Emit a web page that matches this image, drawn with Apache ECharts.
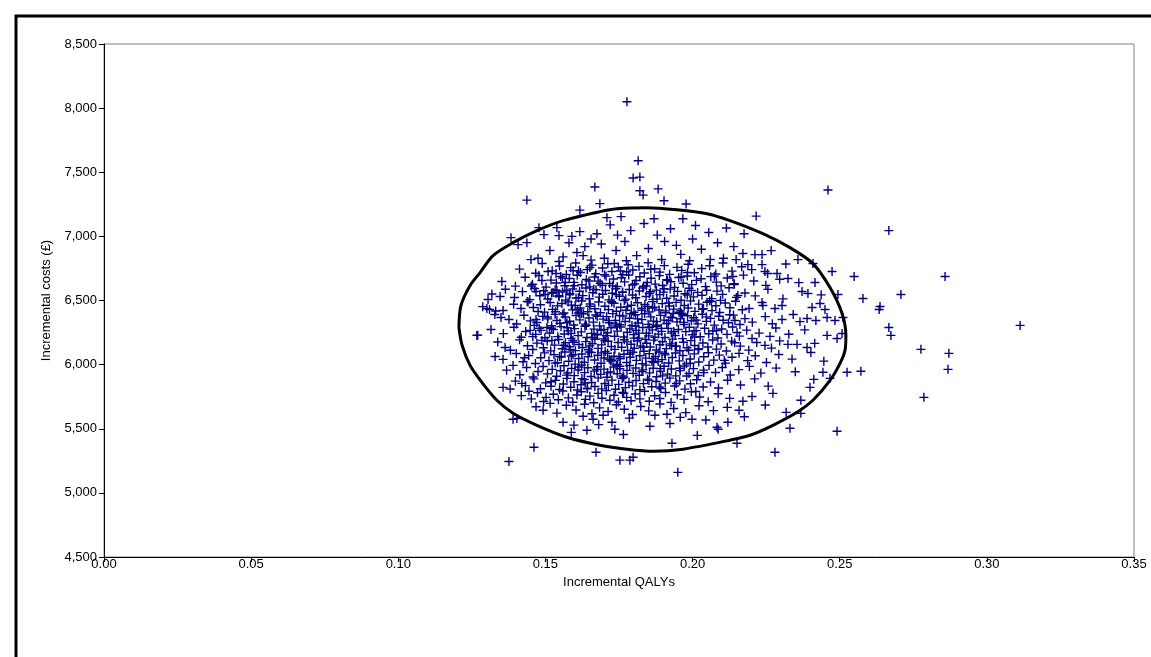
<!DOCTYPE html>
<html>
<head>
<meta charset="utf-8">
<script src="https://cdn.jsdelivr.net/npm/echarts@6/dist/echarts.min.js"></script>
<style>
html,body{margin:0;padding:0;background:#fff;}
#chart{width:1151px;height:657px;}
</style>
</head>
<body>
<div id="chart"></div>
<script>
// ---- Data: [incremental QALYs, incremental costs (£)] ----
const outliers = [
[0.1777,8050],[0.1815,7590],[0.1798,7455],[0.1821,7462],[0.1821,7356],[0.1832,7322],[0.1883,7370],[0.1903,7278],[0.1978,7252],[0.1685,7255],[0.1668,7385],[0.1437,7283],[0.1617,7205],[0.2460,7362],[0.2216,7158],[0.2667,7045],[0.2858,6687],[0.2708,6547],[0.2579,6516],[0.2637,6453],[0.2634,6430],[0.2667,6290],[0.2674,6228],[0.3113,6306],[0.2776,6119],[0.2871,6088],[0.2868,5963],[0.2572,5948],[0.2786,5745],[0.2491,5481],[0.2280,5317],[0.1950,5160],[0.1376,5245],[0.1461,5356],[0.1270,6230],[0.1753,5255],[0.1787,5255],[0.1798,5278],[0.2151,5387],[0.1930,5387],[0.1672,5317],[0.1380,5810],[0.1403,5580],[0.1310,6430],[0.2549,6687],[0.2525,5940],[0.1709,7146],[0.1757,7154],[0.1869,7138],[0.1967,7138]
];
const band6800 = [
[0.1383,6990],[0.1407,6936],[0.1437,6951],[0.1478,7068],[0.1495,7014],[0.1539,7068],[0.1546,7006],[0.1617,7037],[0.1675,7021],[0.1451,6819],[0.1546,6804],[0.1607,6874],[0.1634,6920],[0.1628,6850],[0.2175,7021],[0.2409,6788],[0.2358,6819],[0.2267,6889],[0.2236,6858],[0.2212,6858],[0.2171,6866],[0.2148,6819],[0.1720,7090],[0.1790,7045],[0.1835,7100],[0.1880,7010],[0.1925,7060],[0.2010,7085],[0.2055,7030],[0.2085,6950],[0.2115,7065],[0.2000,6980],[0.1945,6930],[0.1905,6960],[0.1850,6905],[0.1770,6960],[0.1740,6890],[0.1690,6940],[0.1655,6980],[0.1580,6950],[0.1515,6890],[0.1475,6830],[0.1560,6840],[0.1700,6830],[0.1810,6850],[0.1960,6860],[0.2030,6900],[0.2060,6820],[0.2140,6920],[0.1990,6810],[0.1895,6820],[0.1655,6815],[0.1775,6810],[0.2105,6830],[0.1590,7000],[0.1745,7010]
];
const band6700 = [
[0.1412,6745],[0.1467,6712],[0.1489,6788],[0.1523,6731],[0.1548,6769],[0.1571,6703],[0.1586,6756],[0.1603,6792],[0.1619,6718],[0.1642,6741],[0.1658,6776],[0.1671,6709],[0.1694,6753],[0.1712,6787],[0.1726,6726],[0.1748,6761],[0.1763,6702],[0.1781,6779],[0.1797,6738],[0.1818,6766],[0.1836,6715],[0.1849,6794],[0.1871,6747],[0.1889,6721],[0.1904,6772],[0.1922,6704],[0.1947,6758],[0.1963,6735],[0.1985,6783],[0.2006,6716],[0.2031,6749],[0.2058,6771],[0.2079,6707],[0.2103,6792],[0.2134,6729],[0.2167,6763],[0.2201,6741],[0.2255,6710],[0.2317,6785],[0.1755,6730],[0.1509,6726],[0.1536,6710],[0.1594,6733],[0.1651,6757],[0.2474,6726],[0.2287,6710],[0.2188,6780],[0.2236,6780],[0.2246,6726]
];
const band6600 = [
[0.1352,6648],[0.1398,6612],[0.1431,6681],[0.1456,6627],[0.1478,6695],[0.1502,6604],[0.1519,6659],[0.1537,6637],[0.1552,6688],[0.1566,6615],[0.1581,6672],[0.1597,6641],[0.1608,6697],[0.1624,6623],[0.1639,6664],[0.1651,6606],[0.1667,6683],[0.1679,6651],[0.1693,6619],[0.1706,6690],[0.1718,6633],[0.1731,6668],[0.1744,6609],[0.1758,6677],[0.1769,6645],[0.1783,6699],[0.1796,6621],[0.1808,6656],[0.1821,6685],[0.1834,6611],[0.1846,6640],[0.1859,6673],[0.1873,6628],[0.1887,6694],[0.1898,6617],[0.1912,6662],[0.1926,6646],[0.1939,6602],[0.1953,6679],[0.1968,6635],[0.1982,6691],[0.1997,6624],[0.2013,6657],[0.2029,6670],[0.2044,6608],[0.2062,6686],[0.2081,6643],[0.2097,6614],[0.2118,6676],[0.2142,6631],[0.2173,6698],[0.2208,6652],[0.2249,6618],[0.2296,6666],[0.2361,6639],[0.1567,6640],[0.1488,6656],[0.2416,6640],[0.2324,6671],[0.2137,6687],[0.2141,6625]
];
const band6500 = [
[0.1318,6551],[0.1364,6588],[0.1395,6523],[0.1422,6569],[0.1447,6507],[0.1463,6594],[0.1481,6537],[0.1494,6576],[0.1508,6512],[0.1521,6558],[0.1533,6583],[0.1546,6529],[0.1558,6566],[0.1569,6503],[0.1582,6545],[0.1593,6591],[0.1604,6519],[0.1616,6572],[0.1627,6538],[0.1638,6597],[0.1649,6514],[0.1661,6561],[0.1672,6584],[0.1683,6526],[0.1695,6549],[0.1704,6578],[0.1716,6505],[0.1727,6556],[0.1739,6592],[0.1751,6533],[0.1762,6567],[0.1773,6511],[0.1785,6586],[0.1796,6543],[0.1807,6521],[0.1819,6574],[0.1831,6598],[0.1842,6531],[0.1853,6555],[0.1865,6509],[0.1877,6581],[0.1889,6546],[0.1901,6565],[0.1912,6517],[0.1924,6589],[0.1937,6535],[0.1949,6571],[0.1961,6502],[0.1974,6553],[0.1988,6595],[0.2003,6528],[0.2017,6563],[0.2032,6541],[0.2048,6580],[0.2065,6515],[0.2083,6573],[0.2102,6548],[0.2124,6599],[0.2149,6524],[0.2178,6559],[0.2213,6536],[0.2256,6587],[0.2307,6513],[0.2372,6570],[0.2437,6544],[0.1468,6570],[0.1499,6547],[0.1539,6578],[0.1573,6578],[0.1305,6508],[0.1346,6531],[0.2494,6547],[0.2392,6555],[0.2154,6539],[0.1526,6562],[0.1583,6555]
];
const band6400 = [
[0.1287,6452],[0.1331,6418],[0.1356,6422],[0.1301,6438],[0.1417,6438],[0.1475,6414],[0.1516,6484],[0.1556,6477],[0.1392,6471],[0.1438,6493],[0.1459,6446],[0.1483,6467],[0.1497,6409],[0.1524,6431],[0.1541,6458],[0.1563,6403],[0.1577,6489],[0.1592,6427],[0.1601,6462],[0.1618,6441],[0.1623,6496],[0.1644,6412],[0.1652,6473],[0.1668,6436],[0.1681,6488],[0.1687,6405],[0.1702,6455],[0.1714,6429],[0.1733,6478],[0.1741,6416],[0.1756,6447],[0.1768,6499],[0.1774,6424],[0.1792,6463],[0.1801,6408],[0.1813,6482],[0.1827,6439],[0.1838,6469],[0.1852,6411],[0.1864,6491],[0.1871,6448],[0.1886,6426],[0.1897,6476],[0.1908,6404],[0.1921,6457],[0.1936,6433],[0.1944,6485],[0.1959,6419],[0.1972,6461],[0.1985,6442],[0.1993,6497],[0.2008,6415],[0.2021,6472],[0.2037,6437],[0.2049,6486],[0.2066,6421],[0.2079,6459],[0.2092,6407],[0.2111,6480],[0.2127,6444],[0.2146,6494],[0.2169,6428],[0.2192,6438],[0.2236,6484],[0.2239,6461],[0.2280,6438],[0.2304,6461],[0.2433,6477],[0.2450,6430],[0.2406,6446],[0.1613,6402],[0.1725,6492],[0.1847,6454],[0.1962,6401],[0.2058,6498]
];
const band6300 = [
[0.1349,6368],[0.1471,6329],[0.1539,6344],[0.2389,6360],[0.2419,6344],[0.2457,6368],[0.2304,6352],[0.2484,6344],[0.2511,6368],[0.2144,6344],[0.2161,6313],[0.1328,6391],[0.1376,6352],[0.1402,6317],[0.1427,6385],[0.1449,6341],[0.1462,6306],[0.1491,6376],[0.1508,6357],[0.1521,6303],[0.1533,6392],[0.1549,6322],[0.1567,6371],[0.1582,6338],[0.1596,6309],[0.1604,6383],[0.1617,6349],[0.1629,6396],[0.1636,6316],[0.1648,6364],[0.1663,6331],[0.1671,6387],[0.1684,6302],[0.1696,6355],[0.1708,6374],[0.1717,6327],[0.1729,6398],[0.1738,6345],[0.1752,6311],[0.1763,6379],[0.1771,6336],[0.1786,6362],[0.1794,6305],[0.1806,6389],[0.1815,6324],[0.1828,6351],[0.1837,6397],[0.1849,6314],[0.1858,6372],[0.1867,6339],[0.1879,6307],[0.1891,6384],[0.1903,6347],[0.1912,6321],[0.1926,6369],[0.1934,6399],[0.1947,6333],[0.1958,6358],[0.1971,6312],[0.1983,6381],[0.1996,6342],[0.2004,6366],[0.2018,6318],[0.2033,6393],[0.2047,6337],[0.2061,6361],[0.2074,6308],[0.2089,6377],[0.2104,6346],[0.2122,6326],[0.2139,6386],[0.2178,6359],[0.2203,6331],[0.2247,6374],[0.2271,6319],[0.2342,6391],[0.2365,6335],[0.1559,6394],[0.1742,6301],[0.1919,6343]
];
const band6200 = [
[0.1267,6228],[0.1485,6267],[0.1505,6290],[0.1448,6267],[0.2508,6243],[0.2457,6228],[0.2491,6204],[0.2151,6251],[0.2263,6220],[0.2202,6204],[0.1315,6274],[0.1357,6242],[0.1393,6291],[0.1418,6213],[0.1433,6258],[0.1467,6236],[0.1479,6284],[0.1498,6209],[0.1514,6247],[0.1527,6273],[0.1542,6218],[0.1553,6296],[0.1564,6239],[0.1578,6263],[0.1587,6205],[0.1599,6281],[0.1611,6226],[0.1622,6255],[0.1634,6299],[0.1641,6212],[0.1657,6244],[0.1665,6277],[0.1676,6232],[0.1689,6268],[0.1697,6201],[0.1711,6249],[0.1723,6287],[0.1735,6221],[0.1744,6261],[0.1757,6293],[0.1766,6215],[0.1778,6253],[0.1787,6279],[0.1799,6234],[0.1808,6266],[0.1818,6207],[0.1831,6289],[0.1843,6245],[0.1851,6224],[0.1863,6271],[0.1876,6296],[0.1884,6238],[0.1895,6259],[0.1906,6211],[0.1917,6283],[0.1928,6246],[0.1941,6227],[0.1952,6274],[0.1966,6203],[0.1977,6257],[0.1989,6291],[0.1999,6233],[0.2012,6265],[0.2026,6217],[0.2041,6284],[0.2055,6241],[0.2069,6262],[0.2086,6208],[0.2099,6278],[0.2117,6236],[0.2136,6293],[0.2159,6222],[0.2184,6269],[0.2226,6246],[0.2283,6285],[0.2327,6237],[0.2381,6271],[0.1706,6226],[0.1872,6214],[0.1574,6288]
];
const band6100 = [
[0.1363,6134],[0.1488,6189],[0.1522,6189],[0.2324,6158],[0.2355,6158],[0.2389,6134],[0.2246,6150],[0.1338,6176],[0.1381,6112],[0.1412,6193],[0.1439,6147],[0.1457,6118],[0.1471,6168],[0.1493,6131],[0.1506,6184],[0.1518,6107],[0.1531,6152],[0.1545,6196],[0.1557,6124],[0.1568,6171],[0.1581,6139],[0.1593,6188],[0.1602,6109],[0.1614,6157],[0.1626,6133],[0.1637,6179],[0.1646,6116],[0.1659,6163],[0.1668,6198],[0.1679,6127],[0.1691,6154],[0.1703,6103],[0.1713,6182],[0.1724,6141],[0.1736,6119],[0.1747,6173],[0.1759,6136],[0.1768,6194],[0.1779,6111],[0.1791,6159],[0.1802,6128],[0.1812,6186],[0.1823,6146],[0.1835,6104],[0.1844,6167],[0.1856,6137],[0.1868,6191],[0.1877,6114],[0.1889,6155],[0.1898,6178],[0.1911,6125],[0.1923,6162],[0.1932,6199],[0.1945,6143],[0.1957,6108],[0.1969,6175],[0.1981,6132],[0.1994,6187],[0.2007,6149],[0.2019,6117],[0.2035,6169],[0.2052,6138],[0.2068,6192],[0.2081,6121],[0.2097,6161],[0.2115,6106],[0.2133,6183],[0.2162,6144],[0.2191,6113],[0.2218,6172],[0.2268,6129],[0.2296,6185],[0.2415,6166],[0.1651,6146]
];
const band6000 = [
[0.1329,6063],[0.1356,6041],[0.1401,6087],[0.1424,6022],[0.1443,6071],[0.1466,6009],[0.1484,6054],[0.1497,6092],[0.1512,6031],[0.1529,6078],[0.1541,6015],[0.1554,6059],[0.1566,6098],[0.1579,6026],[0.1588,6067],[0.1601,6004],[0.1613,6048],[0.1624,6083],[0.1632,6019],[0.1645,6061],[0.1656,6095],[0.1667,6036],[0.1678,6073],[0.1689,6011],[0.1699,6052],[0.1711,6089],[0.1722,6028],[0.1733,6065],[0.1745,6002],[0.1754,6046],[0.1767,6081],[0.1776,6017],[0.1788,6058],[0.1797,6097],[0.1809,6033],[0.1821,6069],[0.1829,6007],[0.1841,6051],[0.1853,6086],[0.1862,6024],[0.1874,6063],[0.1886,6099],[0.1896,6039],[0.1907,6076],[0.1919,6013],[0.1931,6056],[0.1942,6091],[0.1955,6029],[0.1967,6071],[0.1979,6006],[0.1992,6044],[0.2006,6084],[0.2021,6021],[0.2038,6061],[0.2054,6093],[0.2072,6035],[0.2091,6074],[0.2112,6012],[0.2134,6057],[0.2158,6088],[0.2187,6031],[0.2213,6069],[0.2251,6016],[0.2293,6079],[0.2338,6043],[0.2402,6094],[0.2446,6027],[0.1717,6041],[0.1866,6047],[0.1594,6077]
];
const band5900 = [
[0.1390,5994],[0.2467,5893],[0.2443,5940],[0.1368,5957],[0.1413,5921],[0.1436,5978],[0.1458,5903],[0.1475,5946],[0.1492,5985],[0.1507,5928],[0.1523,5963],[0.1538,5909],[0.1551,5952],[0.1563,5991],[0.1576,5935],[0.1589,5971],[0.1598,5914],[0.1611,5958],[0.1623,5997],[0.1633,5938],[0.1644,5976],[0.1655,5907],[0.1666,5949],[0.1677,5984],[0.1688,5924],[0.1699,5965],[0.1709,5902],[0.1721,5943],[0.1732,5981],[0.1744,5929],[0.1753,5968],[0.1764,5911],[0.1777,5955],[0.1786,5993],[0.1798,5932],[0.1807,5974],[0.1819,5917],[0.1831,5959],[0.1842,5996],[0.1854,5936],[0.1866,5972],[0.1878,5905],[0.1891,5948],[0.1903,5987],[0.1915,5926],[0.1928,5966],[0.1943,5912],[0.1958,5953],[0.1972,5989],[0.1988,5931],[0.2003,5969],[0.2019,5915],[0.2037,5957],[0.2056,5994],[0.2078,5939],[0.2101,5977],[0.2128,5919],[0.2157,5961],[0.2193,5986],[0.2232,5934],[0.2284,5973],[0.2349,5944],[0.1741,5994],[0.1898,5912]
];
const band5800 = [
[0.1444,5792],[0.1420,5854],[0.1356,5823],[0.2399,5823],[0.2412,5885],[0.1398,5871],[0.1432,5836],[0.1461,5889],[0.1483,5812],[0.1501,5858],[0.1519,5831],[0.1534,5877],[0.1548,5806],[0.1561,5849],[0.1573,5893],[0.1586,5824],[0.1597,5866],[0.1609,5802],[0.1621,5843],[0.1632,5884],[0.1643,5817],[0.1657,5861],[0.1668,5829],[0.1679,5897],[0.1691,5811],[0.1702,5853],[0.1714,5838],[0.1726,5879],[0.1738,5808],[0.1749,5846],[0.1761,5891],[0.1772,5821],[0.1784,5863],[0.1796,5834],[0.1808,5876],[0.1821,5805],[0.1833,5852],[0.1847,5887],[0.1861,5827],[0.1876,5869],[0.1892,5814],[0.1907,5856],[0.1923,5895],[0.1939,5833],[0.1956,5873],[0.1974,5809],[0.1993,5851],[0.2014,5882],[0.2036,5826],[0.2061,5864],[0.2088,5818],[0.2119,5878],[0.2163,5841],[0.2211,5889],[0.2257,5832]
];
const band5700 = [
[0.1502,5745],[0.2273,5776],[0.2368,5722],[0.2171,5714],[0.1418,5758],[0.1452,5733],[0.1473,5781],[0.1494,5712],[0.1527,5769],[0.1544,5726],[0.1559,5794],[0.1578,5741],[0.1593,5707],[0.1607,5763],[0.1622,5788],[0.1636,5729],[0.1651,5754],[0.1664,5703],[0.1679,5776],[0.1692,5738],[0.1707,5797],[0.1719,5722],[0.1733,5761],[0.1748,5709],[0.1762,5784],[0.1776,5745],[0.1791,5718],[0.1805,5771],[0.1821,5733],[0.1837,5792],[0.1853,5714],[0.1871,5757],[0.1889,5736],[0.1908,5783],[0.1927,5706],[0.1948,5765],[0.1971,5729],[0.1996,5789],[0.2024,5748],[0.2053,5711],[0.2087,5773],[0.2126,5737],[0.2202,5752]
];
const band5600 = [
[0.1516,5698],[0.1492,5644],[0.1696,5605],[0.1872,5605],[0.1913,5613],[0.2318,5628],[0.2368,5620],[0.2158,5644],[0.1468,5671],[0.1539,5622],[0.1571,5683],[0.1604,5646],[0.1633,5691],[0.1658,5617],[0.1684,5663],[0.1713,5634],[0.1741,5687],[0.1768,5652],[0.1796,5611],[0.1824,5674],[0.1851,5639],[0.1889,5693],[0.1936,5658],[0.1977,5626],[0.2022,5679],[0.2071,5641],[0.2118,5667],[0.2247,5685]
];
const band5400 = [
[0.1390,5574],[0.1560,5551],[0.1628,5597],[0.1662,5574],[0.1726,5551],[0.1998,5574],[0.2120,5551],[0.2083,5512],[0.1855,5520],[0.1597,5528],[0.1785,5583],[0.1923,5541],[0.1958,5589],[0.2045,5568],[0.2176,5593],[0.2331,5504],[0.1681,5532],[0.1736,5496],[0.1641,5488],[0.2087,5496],[0.1765,5455],[0.2016,5448],[0.1588,5472]
];
const coreExtra = [
[0.1534,6412],[0.1587,6243],[0.1612,6521],[0.1649,6098],[0.1676,6377],[0.1702,6189],[0.1728,6614],[0.1753,5987],[0.1779,6452],[0.1806,6301],[0.1832,6136],[0.1857,6568],[0.1883,6024],[0.1909,6419],[0.1936,6258],[0.1961,6683],[0.1987,6112],[0.2012,6347],[0.2038,5938],[0.2064,6492],
[0.1548,6063],[0.1573,6326],[0.1598,6615],[0.1624,5891],[0.1651,6455],[0.1677,6238],[0.1701,6701],[0.1726,6034],[0.1752,6383],[0.1777,6177],[0.1803,6629],[0.1828,5946],[0.1854,6292],[0.1879,6511],[0.1905,6087],[0.1931,6366],[0.1956,5972],[0.1982,6543],[0.2007,6215],[0.2033,6431],
[0.1521,6284],[0.1546,6537],[0.1572,5918],[0.1597,6175],[0.1623,6398],[0.1648,6652],[0.1674,5962],[0.1699,6275],[0.1725,6487],[0.1750,6061],[0.1776,6724],[0.1801,6207],[0.1827,6424],[0.1852,5877],[0.1878,6335],[0.1903,6592],[0.1929,6148],[0.1954,6408],[0.1980,5911],[0.2005,6263],
[0.1562,6151],[0.1588,6464],[0.1613,5982],[0.1639,6306],[0.1664,6587],[0.1690,6092],[0.1715,6343],[0.1741,6546],[0.1766,5901],[0.1792,6397],[0.1817,6246],[0.1843,6613],[0.1868,6017],[0.1894,6283],[0.1919,6481],[0.1945,5853],[0.1970,6328],[0.1996,6579],[0.2021,6124],[0.2047,6372],
[0.1507,6371],[0.1533,6012],[0.1558,6676],[0.1584,6118],[0.1609,6427],[0.1635,5857],[0.1660,6211],[0.1686,6634],[0.1711,5936],[0.1737,6318],[0.1762,6563],[0.1788,6083],[0.1813,6357],[0.1839,6197],[0.1864,6441],[0.1890,5969],[0.1915,6658],[0.1941,6143],[0.1966,6393],[0.1992,6011],
[0.1457,6218],[0.1441,6489],[0.1429,6054],[0.1468,6352],[0.1452,6613],[0.2081,6266],[0.2095,6501],[0.2108,6033],[0.2126,6389],[0.2143,6170],[0.1519,5867],[0.1642,5811],[0.1766,5777],[0.1887,5826],[0.2011,5791],[0.1612,6731],[0.1734,6789],[0.1858,6744],[0.1983,6718],[0.2074,6690]
];
// confidence ellipse outline
const ellipsePoints = [
[0.1206,6290],[0.1213,6461],[0.1244,6617],[0.1278,6718],[0.1322,6850],[0.1390,6951],[0.1471,7045],[0.1560,7123],[0.1685,7193],[0.1743,7216],[0.1845,7224],[0.1947,7208],[0.2049,7177],[0.2127,7123],[0.2239,7021],[0.2331,6912],[0.2409,6788],[0.2467,6601],[0.2508,6399],[0.2521,6228],[0.2518,6111],[0.2501,6010],[0.2467,5877],[0.2409,5722],[0.2355,5628],[0.2273,5527],[0.2195,5449],[0.2127,5411],[0.1968,5341],[0.1866,5325],[0.1777,5341],[0.1685,5372],[0.1573,5434],[0.1471,5527],[0.1390,5621],[0.1335,5722],[0.1284,5862],[0.1244,5994],[0.1217,6150],[0.1206,6290]
];

const allPoints = [].concat(outliers, band6800, band6700, band6600, band6500, band6400, band6300, band6200, band6100, band6000, band5900, band5800, band5700, band5600, band5400, coreExtra);

const FONT = '"Liberation Sans", Arial, sans-serif';
const chart = echarts.init(document.getElementById('chart'), null, {renderer: 'canvas'});
chart.setOption({
  animation: false,
  backgroundColor: '#fff',
  textStyle: {fontFamily: FONT, color: '#000'},
  graphic: [{
    type: 'rect', z: 100, silent: true,
    shape: {x: 16, y: 16, width: 1200, height: 700},
    style: {fill: 'none', stroke: '#000', lineWidth: 3}
  }],
  grid: {left: 104, right: 17, top: 44, bottom: 100, show: true, borderColor: '#808080', borderWidth: 1, backgroundColor: 'transparent'},
  xAxis: {
    type: 'value', min: 0, max: 0.35, interval: 0.05,
    name: 'Incremental QALYs', nameLocation: 'middle', nameGap: 14,
    nameTextStyle: {fontSize: 13, color: '#000', fontFamily: FONT},
    axisLine: {show: true, onZero: false, lineStyle: {color: '#000', width: 1}},
    axisTick: {show: true, length: 5, lineStyle: {color: '#000'}},
    axisLabel: {fontSize: 13, color: '#000', margin: 1, fontFamily: FONT, formatter: v => v.toFixed(2)},
    splitLine: {show: false}
  },
  yAxis: {
    type: 'value', min: 4500, max: 8500, interval: 500,
    name: 'Incremental costs (£)', nameLocation: 'middle', nameGap: 51,
    nameTextStyle: {fontSize: 13, color: '#000', fontFamily: FONT},
    axisLine: {show: true, onZero: false, lineStyle: {color: '#000', width: 1}},
    axisTick: {show: true, length: 5, lineStyle: {color: '#000'}},
    axisLabel: {fontSize: 13, color: '#000', margin: 7, fontFamily: FONT, formatter: v => v.toLocaleString('en-US')},
    splitLine: {show: false}
  },
  series: [{
    type: 'scatter',
    data: allPoints,
    symbol: 'path://M3.8,0h1.4v3.8h3.8v1.4h-3.8v3.8h-1.4v-3.8h-3.8v-1.4h3.8z',
    symbolSize: 9,
    itemStyle: {color: '#000080', opacity: 1},
    z: 2
  }, {
    type: 'line',
    data: ellipsePoints,
    showSymbol: false,
    symbol: 'none',
    smooth: 0.3,
    lineStyle: {color: '#000', width: 3},
    z: 3
  }]
});
</script>
</body>
</html>
